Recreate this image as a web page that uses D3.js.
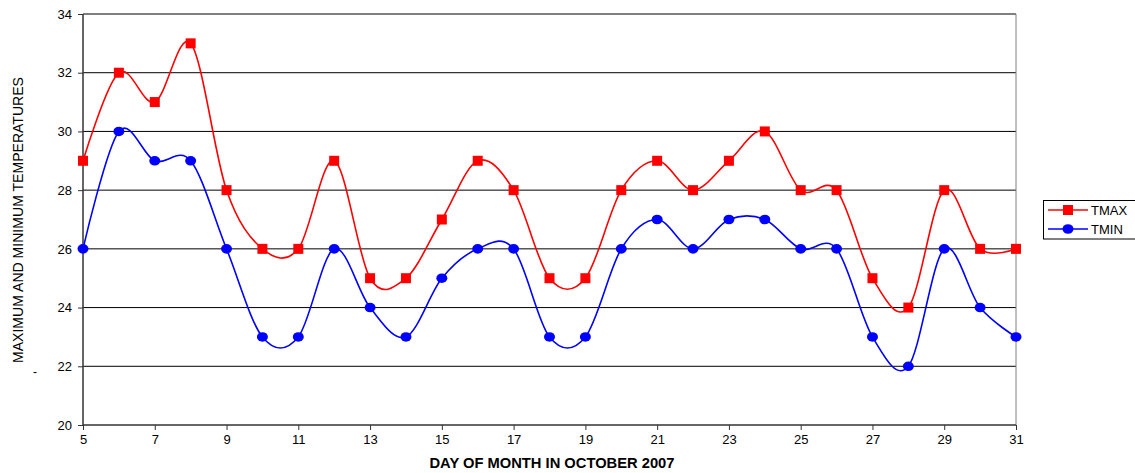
<!DOCTYPE html>
<html>
<head>
<meta charset="utf-8">
<script src="https://cdn.jsdelivr.net/npm/d3@7"></script>
<style>
  body { margin: 0; background: #fff; }
  svg { display: block; }
  text { font-family: "Liberation Sans", Arial, sans-serif; }
</style>
</head>
<body>
<svg id="chart" width="1135" height="473"></svg>
<script>
// Daily temperatures, October 2007
const days = [5,6,7,8,9,10,11,12,13,14,15,16,17,18,19,20,21,22,23,24,25,26,27,28,29,30,31];
const tmax = [29,32,31,33,28,26,26,29,25,25,27,29,28,25,25,28,29,28,29,30,28,28,25,24,28,26,26];
const tmin = [26,30,29,29,26,23,23,26,24,23,25,26,26,23,23,26,27,26,27,27,26,26,23,22,26,24,23];
const xTicks = [5,7,9,11,13,15,17,19,21,23,25,27,29,31];
const yTicks = [20,22,24,26,28,30,32,34];

const svg = d3.select("#chart");
const m = { left: 83, right: 1016, top: 14, bottom: 425 };

const x = d3.scaleLinear().domain([5, 31]).range([m.left, m.right]);
const y = d3.scaleLinear().domain([20, 34]).range([m.bottom, m.top]);

// horizontal gridlines
svg.append("g").selectAll("line")
  .data(yTicks.filter(v => v > 20))
  .join("line")
  .attr("x1", m.left).attr("x2", m.right)
  .attr("y1", d => y(d)).attr("y2", d => y(d))
  .attr("stroke", "#000").attr("stroke-width", 1);

// right border
svg.append("line")
  .attr("x1", m.right).attr("x2", m.right)
  .attr("y1", m.top).attr("y2", m.bottom)
  .attr("stroke", "#808080").attr("stroke-width", 1);

// axes
const yAxis = d3.axisLeft(y).tickValues(yTicks).tickSize(5).tickPadding(6);
const xAxis = d3.axisBottom(x).tickValues(xTicks).tickSize(5).tickPadding(5);

const gy = svg.append("g").attr("transform", `translate(${m.left},0)`).call(yAxis);
const gx = svg.append("g").attr("transform", `translate(0,${m.bottom})`).call(xAxis);
[gy, gx].forEach(g => {
  g.select(".domain").attr("stroke", "#333").attr("stroke-width", 1.5);
  g.selectAll(".tick line").attr("stroke", "#333");
  g.selectAll(".tick text").attr("font-size", 13)
    .attr("font-family", "'Liberation Sans', Arial, sans-serif").attr("fill", "#000");
});
gy.select(".domain").attr("d", `M0,${m.top}V${m.bottom}`);
gx.select(".domain").attr("d", `M${m.left},0H${m.right}`);

// series
const line = d3.line()
  .x((d, i) => x(days[i]))
  .y(d => y(d))
  .curve(d3.curveCatmullRom.alpha(0));

const series = [
  { name: "TMAX", values: tmax, color: "#ff0000", marker: "square" },
  { name: "TMIN", values: tmin, color: "#0000ff", marker: "circle" }
];

function drawMarker(g, type, color, cx, cy) {
  if (type === "square") {
    g.append("rect").attr("x", cx - 5).attr("y", cy - 5)
      .attr("width", 10).attr("height", 10).attr("fill", color);
  } else {
    g.append("ellipse").attr("cx", cx).attr("cy", cy)
      .attr("rx", 5.5).attr("ry", 4.8).attr("fill", color);
  }
}

series.slice().reverse().forEach(s => {
  svg.append("path").datum(s.values)
    .attr("d", line).attr("fill", "none")
    .attr("stroke", s.color).attr("stroke-width", 1.6);
});
series.slice().reverse().forEach(s => {
  const g = svg.append("g");
  s.values.forEach((v, i) => drawMarker(g, s.marker, s.color, x(days[i]), y(v)));
});

// legend
const lg = svg.append("g");
lg.append("rect").attr("x", 1043.5).attr("y", 200.5)
  .attr("width", 100).attr("height", 38.5)
  .attr("fill", "#fff").attr("stroke", "#000").attr("stroke-width", 1);
series.forEach((s, i) => {
  const cy = 210 + i * 19;
  lg.append("line").attr("x1", 1048).attr("x2", 1088)
    .attr("y1", cy).attr("y2", cy).attr("stroke", s.color).attr("stroke-width", 1.6);
  drawMarker(lg, s.marker, s.color, 1068, cy);
  lg.append("text").attr("x", 1091).attr("y", cy + 4.5)
    .attr("font-size", 13).text(s.name);
});

// axis titles
svg.append("text")
  .attr("transform", "translate(23,220) rotate(-90)")
  .attr("text-anchor", "middle")
  .attr("font-size", 15)
  .attr("textLength", 286).attr("lengthAdjust", "spacingAndGlyphs")
  .text("MAXIMUM AND MINIMUM TEMPERATURES");

svg.append("text")
  .attr("x", 35).attr("y", 376)
  .attr("text-anchor", "middle")
  .attr("font-size", 12)
  .text("-");

svg.append("text")
  .attr("x", 552).attr("y", 468)
  .attr("text-anchor", "middle")
  .attr("font-size", 14).attr("font-weight", "bold")
  .attr("textLength", 245).attr("lengthAdjust", "spacingAndGlyphs")
  .text("DAY OF MONTH IN OCTOBER 2007");
</script>
</body>
</html>
